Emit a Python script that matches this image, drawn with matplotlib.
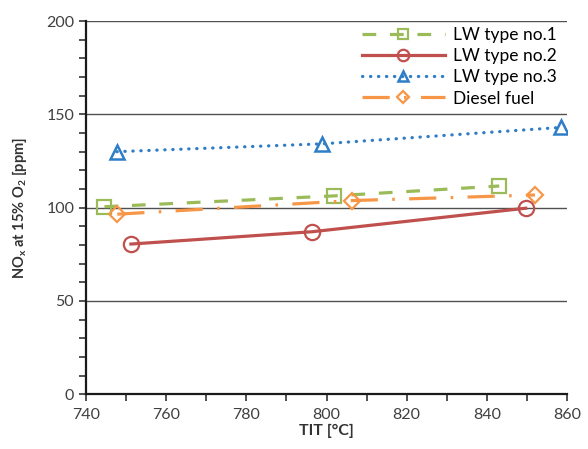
import matplotlib
matplotlib.use("Agg")
import matplotlib.pyplot as plt
from matplotlib.ticker import MultipleLocator

plt.rcParams['font.family'] = ['Lato', 'DejaVu Sans']
plt.rcParams['mathtext.fontset'] = 'custom'
plt.rcParams['mathtext.bf'] = 'Lato:bold'
plt.rcParams['mathtext.rm'] = 'Lato'

# TIT [°C] and NOx [ppm] for each fuel
tit_lw1 = [744.6, 801.8, 843.1]
nox_lw1 = [100.5, 106.3, 111.6]
tit_lw2 = [751.2, 796.4, 849.7]
nox_lw2 = [80.5, 87.1, 99.7]
tit_lw3 = [747.7, 798.9, 858.5]
nox_lw3 = [130.0, 134.2, 143.0]
tit_dsl = [747.8, 806.4, 852.0]
nox_dsl = [96.5, 103.8, 106.8]

labels = ['LW type no.1', 'LW type no.2', 'LW type no.3', 'Diesel fuel']

fig = plt.figure(figsize=(5.88, 4.49), dpi=100)
ax = fig.add_axes([0.1463, 0.1218, 0.818, 0.8314])

lw = 2.3
ms = 10
ax.plot(tit_lw1, nox_lw1, color='#9BBB59', lw=lw, dashes=(4.3, 4.3),
        marker='s', ms=ms, mfc='none', mec='#9BBB59', mew=1.6, label=labels[0])
ax.plot(tit_lw2, nox_lw2, color='#C0504D', lw=lw, ls='-',
        marker='o', ms=ms + 1, mfc='none', mec='#C0504D', mew=1.6, label=labels[1])
ax.plot(tit_lw3, nox_lw3, color='#2E7DC6', lw=lw, dashes=(0.1, 2.4),
        dash_capstyle='round', marker='^', ms=ms, mfc='none', mec='#2E7DC6',
        mew=1.8, label=labels[2])
ax.plot(tit_dsl, nox_dsl, color='#F79646', lw=lw, dashes=(8.5, 4.5, 0.8, 4.5),
        marker='D', ms=ms - 2, mfc='none', mec='#F79646', mew=1.6, label=labels[3])

ax.set_xlim(740, 860)
ax.set_ylim(0, 200)
ax.xaxis.set_major_locator(MultipleLocator(20))
ax.xaxis.set_minor_locator(MultipleLocator(10))
ax.yaxis.set_major_locator(MultipleLocator(50))
ax.yaxis.set_minor_locator(MultipleLocator(10))
ax.tick_params(which='both', direction='out', length=5, width=1.2,
               color='#333333', labelsize=11.5, labelcolor='#404040')
ax.tick_params(axis='x', which='major', pad=5)

ax.grid(axis='y', which='major', color='#505050', lw=1.0)
ax.set_axisbelow(True)
for side in ('top', 'right'):
    ax.spines[side].set_visible(False)
for side in ('left', 'bottom'):
    ax.spines[side].set_color('#1a1a1a')
    ax.spines[side].set_linewidth(1.6)

ax.set_xlabel('TIT [°C]', fontsize=11.5, fontweight='bold', color='#333333', labelpad=1)
ax.set_ylabel(r'$\mathbf{NO_x}$ at 15% $\mathbf{O_2}$ [ppm]', fontsize=10.5,
              fontweight='bold', color='#333333', labelpad=12)

ax.legend(loc='upper right', bbox_to_anchor=(1.0, 1.012), frameon=False,
          fontsize=12.5, handlelength=4.8, handletextpad=0.45,
          labelspacing=0.3, borderaxespad=0.2, markerscale=0.75)

fig.savefig('out.png', dpi=100)
